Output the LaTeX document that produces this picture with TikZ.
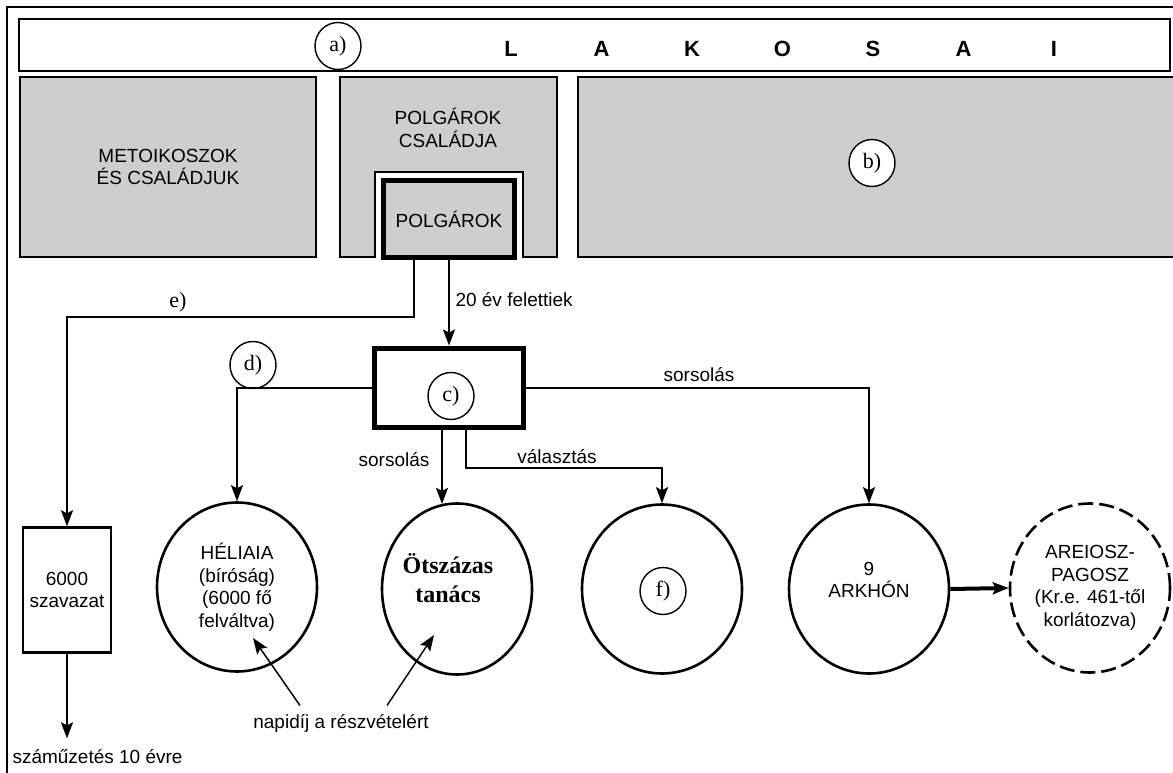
\documentclass[tikz,border=0pt]{standalone}
\usepackage{fontspec}
\setmainfont{Liberation Sans}
\newfontfamily\timesf{Liberation Serif}
\usepackage{tikz}
\usetikzlibrary{arrows.meta,shapes.geometric,calc,positioning}
\definecolor{boxgray}{RGB}{206,206,206}

\begin{document}
\begin{tikzpicture}[x=1pt,y=-1pt,
    every node/.style={font=\fontsize{19}{22.5}\selectfont},
    graybox/.style={draw, line width=2pt, fill=boxgray, inner sep=0pt},
    keybox/.style={draw, line width=5pt, inner sep=0pt},
    organ/.style={draw, ellipse, line width=2.6pt, minimum width=160pt, minimum height=169pt, inner sep=0pt, align=center},
    tag/.style={draw, ellipse, line width=1.4pt, fill=white, minimum width=46pt, minimum height=47pt, inner sep=0pt, font=\timesf\fontsize{22}{22}\selectfont},
    lettr/.style={font=\bfseries\fontsize{22}{22}\selectfont},
    arr/.style={-{Stealth[length=16pt,width=12pt,inset=3pt]}, line width=2pt}]
    \path[use as bounding box] (0,0) rectangle (1173,773);
    \clip (0,0) rectangle (1173,773);
    \fill[white] (0,0) rectangle (1173,773);
    \draw[line width=2pt] (7,7) rectangle (1190,790);

    % lakosai
    \node[draw, line width=2pt, minimum width=1151pt, minimum height=52pt, inner sep=0pt] (lakosai) at (594.5,45) {};
    \node[tag] (taga) at (338,46) {a)};
    \foreach \l [count=\i from 0] in {L,A,K,O,S,A,I}
        \node[lettr] (lett\i) at ({511+90.5*\i},49) {\l};

    % top blocks
    \node[graybox, minimum width=296pt, minimum height=180pt, align=center] (metoik) at (168,167) {METOIKOSZOK\\ÉS CSALÁDJUK};
    \draw[graybox] (340,77) -- (557,77) -- (557,257) -- (523,257) -- (523,172) -- (375,172) -- (375,257) -- (340,257) -- cycle;
    \node[align=center] (csalad) at (448,128) {POLGÁROK\\CSALÁDJA};
    \node[keybox, fill=boxgray, minimum width=131pt, minimum height=76pt] (polg) at (449,219) {POLGÁROK};
    \node[graybox, minimum width=620pt, minimum height=180pt] (tobbi) at (888,167) {};
    \node[tag] (tagb) at (872,163) {b)};

    % assembly
    \node[keybox, minimum width=149pt, minimum height=79pt] (nepgy) at (449,387.5) {};
    \node[tag] (tagc) at (451,396) {c)};
    \node[tag] (tagd) at (253,365) {d)};
    \node[font=\timesf\fontsize{22}{22}\selectfont] (tage) at (178,302) {e)};

    % organs
    \node[draw, line width=2.4pt, minimum width=88pt, minimum height=125pt, inner sep=0pt, align=center] (szav) at (67,590) {6000\\szavazat};
    \node[organ] (heliaia) at (237,587) {HÉLIAIA\\(bíróság)\\(6000 fő\\felváltva)};
    \node[organ, minimum width=150pt, minimum height=171pt] (tanacs) at (457,589) {};
    \node[font=\timesf\bfseries\fontsize{24}{29}\selectfont, align=center] (tanacstxt) at (448,578) {Ötszázas\\tanács};
    \node[organ] (fcirc) at (662,589) {};
    \node[tag] (tagf) at (663,591) {f)};
    \node[organ] (arkhon) at (869,589) {};
    \node[align=center] (arkhontxt) at (869,580) {9\\ARKHÓN};
    \node[organ, dash pattern=on 15pt off 6pt] (areiosz) at (1090,588) {AREIOSZ-\\PAGOSZ\\(Kr.e. 461-től\\korlátozva)};

    % labels
    \node[anchor=west] (felett) at (452,300) {20 év felettiek};
    \node (sors1) at (394,460) {sorsolás};
    \node (valaszt) at (557,457) {választás};
    \node (sors2) at (699,375) {sorsolás};
    \node (napidij) at (341,723) {napidíj a részvételért};
    \node[anchor=west] (szamuz) at (9,757) {száműzetés 10 évre};
    \coordinate (helpay) at (253,638);
    \coordinate (otspay) at (434,635);
    \coordinate (ebend) at (67,317);

    % connectors
    \draw[arr] ([xshift=-35pt]polg.south) |- (ebend) -- (szav.north);
    \draw[arr] (polg.south) -- (nepgy.north);
    \draw[arr] (nepgy.west) -| (heliaia.north);
    \draw[arr] (nepgy.south -| tanacs.100) -- (tanacs.100);
    \draw[arr] ([xshift=17pt]nepgy.south) -- ++(0,38) -| (fcirc.north);
    \draw[arr] (nepgy.east) -| (arkhon.north);
    \draw[arr, line width=4pt] (arkhon.east) -- (areiosz.west);
    \draw[arr] (szav.south) -- ($(szav.south |- szamuz.north)+(0,-8)$);
    \draw[arr, line width=1.5pt] ([xshift=-41pt,yshift=5pt]napidij.north) -- (helpay);
    \draw[arr, line width=1.5pt] ([xshift=46pt,yshift=5pt]napidij.north) -- (otspay);
\end{tikzpicture}
\end{document}
